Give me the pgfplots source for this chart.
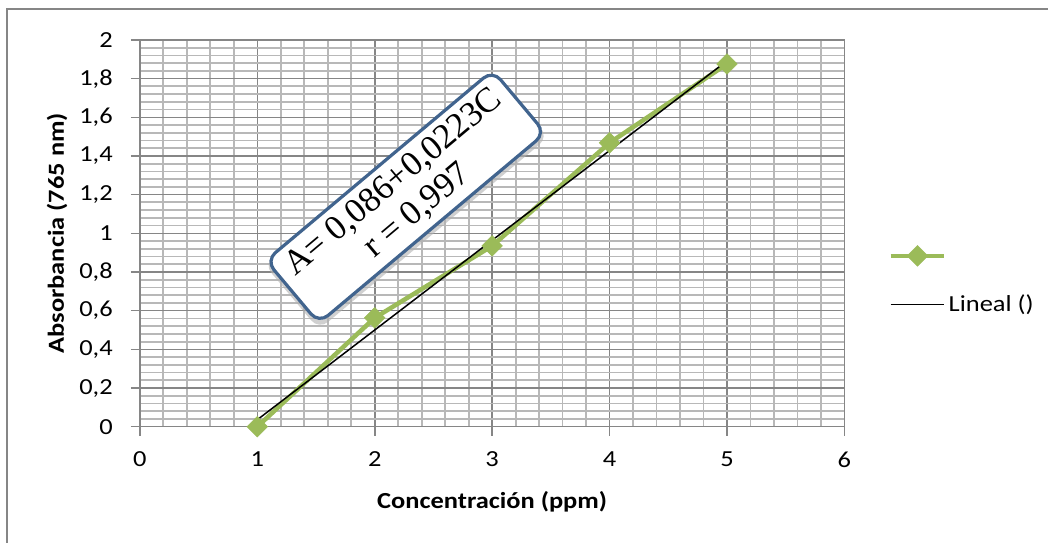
\documentclass[border=0pt]{standalone}
\usepackage{fontspec}
\setmainfont{Carlito}[FakeStretch=1.15]
\newfontfamily\serifbox{Liberation Serif}
\usepackage{pgfplots}
\pgfplotsset{compat=1.18}
\definecolor{excelgreen}{HTML}{9BBB59}
\definecolor{majorgrid}{HTML}{868686}
\definecolor{minorgrid}{HTML}{B8B8B8}
\definecolor{boxborder}{HTML}{41648E}
\begin{document}
\begin{tikzpicture}[x=1pt,y=1pt]
\fill[white] (0,0) rectangle (1049,543);
\draw[majorgrid, line width=1.5pt] (7,0) -- (7,534) -- (1049,534);
\begin{axis}[
  at={(140pt,116pt)}, anchor=south west, scale only axis,
  width=705pt, height=387pt,
  xmin=0, xmax=6, ymin=0, ymax=2,
  xtick={0,1,2,3,4,5,6},
  ytick={0,0.2,0.4,0.6,0.8,1,1.2,1.4,1.6,1.8,2},
  minor x tick num=4, minor y tick num=4,
  grid=both,
  major grid style={majorgrid, line width=1.6pt},
  minor grid style={minorgrid, line width=1.8pt},
  axis line style={majorgrid, line width=1.6pt},
  xtick pos=bottom, ytick pos=left,
  tick align=outside, major tick length=9pt, minor tick length=0pt,
  tick style={majorgrid, line width=1.6pt},
  /pgf/number format/use comma,
  /pgf/number format/assume math mode=true,
  tick label style={font=\fontsize{23}{27}\selectfont, inner sep=0pt},
  yticklabel style={xshift=-18pt},
  xticklabel style={yshift=-16pt},
  xlabel={Concentración (ppm)},
  ylabel={Absorbancia (765 nm)},
  label style={font=\bfseries\fontsize{23}{27}\selectfont},
  xlabel style={at={(axis description cs:0.5,-0.1935)}, anchor=center},
  ylabel style={at={(axis description cs:-0.1177,0.5)}, anchor=center},
  clip=false,
  legend style={at={(axis description cs:1.062,0.378)}, anchor=west,
    draw=none, fill=none, inner sep=0pt, row sep=27pt,
    font=\fontsize{23}{27}\selectfont},
  legend cell align=left,
  legend image code/.code={\draw[mark repeat=2,mark phase=2] plot coordinates {(0pt,0pt)(27pt,0pt)(54pt,0pt)};},
]
\addplot[excelgreen, line width=4.5pt, mark=square*, mark size=7.3pt,
  mark options={rotate=45, solid, line width=0.5pt}]
  coordinates {(1,0) (2,0.563) (3,0.935) (4,1.468) (5,1.876)};
\addlegendentry{}
\addplot[black, line width=1.5pt] coordinates {(1,0.036) (5,1.892)};
\addlegendentry{Lineal ()}
\node[draw=none, rounded corners=12pt, fill=black!30, opacity=0.6,
  rotate=40, minimum width=300pt, minimum height=86pt, inner sep=2pt,
  xshift=-2pt, yshift=-3pt]
  at (axis cs:2.264,1.189) {};
\node[draw=boxborder, line width=3.2pt, rounded corners=12pt, fill=white,
  rotate=40, minimum width=296pt, minimum height=82pt, align=center, inner sep=2pt,
  font=\serifbox\fontsize{35}{37}\selectfont]
  at (axis cs:2.264,1.189) {A= 0,086+0,0223C\\ r = 0,997};
\end{axis}
\end{tikzpicture}
\end{document}
